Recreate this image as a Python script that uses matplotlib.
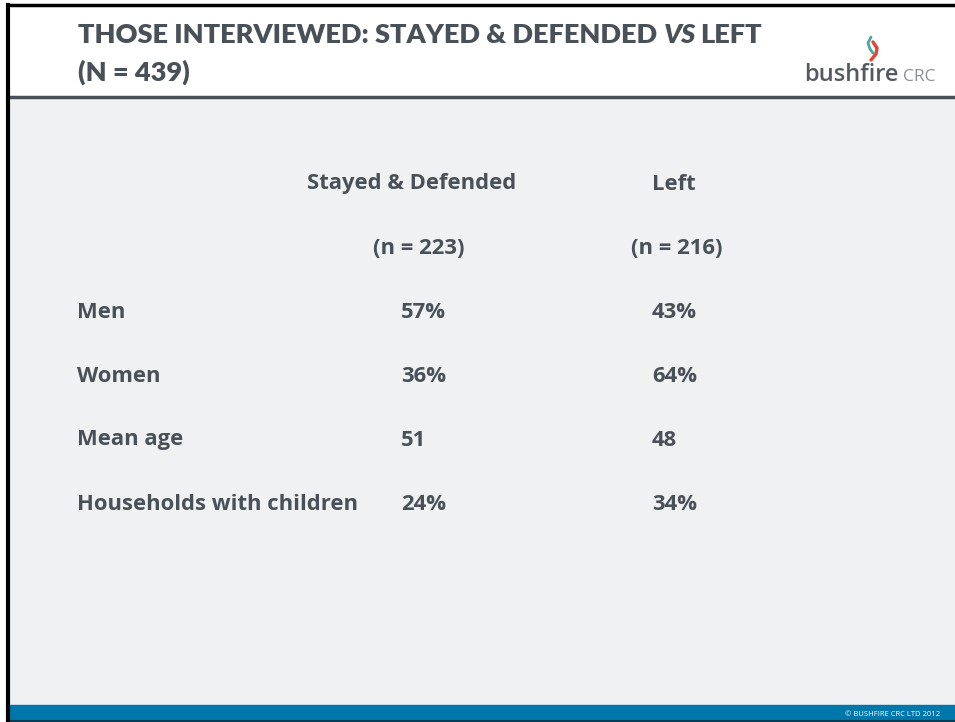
import matplotlib.pyplot as plt
from matplotlib.patches import Rectangle

title_lines = ["THOSE INTERVIEWED: STAYED & DEFENDED ", "(N = 439)"]
col_headers = ["Stayed & Defended", "Left"]
col_counts = ["(n = 223)", "(n = 216)"]
row_labels = ["Men", "Women", "Mean age", "Households with children"]
stayed_vals = ["57%", "36%", "51", "24%"]
left_vals = ["43%", "64%", "48", "34%"]

TXT = "#4a5058"
W, H = 955, 722


def main():
    fig = plt.figure(figsize=(W / 100, H / 100), dpi=100)
    ax = fig.add_axes([0, 0, 1, 1])
    ax.set_xlim(0, W)
    ax.set_ylim(H, 0)
    ax.axis("off")

    # backgrounds
    ax.add_patch(Rectangle((0, 0), W, H, color="white", zorder=0))
    ax.add_patch(Rectangle((8, 98), W, 607, color="#f0f1f3", zorder=1))
    ax.add_patch(Rectangle((8, 705), W, 17, color="#0077aa", zorder=1))
    ax.plot([8, W], [720.5, 720.5], color="#0a3d55", lw=1.5, zorder=2)
    ax.plot([8, W], [97, 97], color="#4a5058", lw=2.5, zorder=2)
    # black frame top/left
    ax.plot([7.5, W], [5, 5], color="black", lw=2.5, zorder=3)
    ax.plot([7.5, 7.5], [5, H], color="black", lw=3, zorder=3)

    # title
    tfont = dict(family="Lato", weight="heavy", size=19.5, color=TXT)
    t = ax.text(78, 35, title_lines[0], va="center", ha="left", **tfont)
    fig.canvas.draw()
    bb = t.get_window_extent().transformed(ax.transData.inverted())
    t2 = ax.text(bb.x1, 35, "VS", va="center", ha="left", style="italic", **tfont)
    bb2 = t2.get_window_extent().transformed(ax.transData.inverted())
    ax.text(bb2.x1 + 5, 35, "LEFT", va="center", ha="left", **tfont)
    ax.text(78, 72, title_lines[1], va="center", ha="left", **tfont)

    # logo
    ax.text(804, 75, "bushfire", va="center", ha="left", family="Open Sans",
            weight="semibold", size=17, color="#555a60")
    ax.text(903, 77, "CRC", va="center", ha="left", family="Open Sans",
            size=12.5, color="#8a8f95")
    ax.plot([871, 868, 870, 873], [37, 43, 49, 53], color="#4aa89a", lw=2,
            solid_capstyle="round")
    ax.plot([873, 877, 876, 871], [42, 48, 54, 60], color="#e0483c", lw=2.5,
            solid_capstyle="round")

    # table
    bfont = dict(family="Open Sans", weight="bold", size=15.8, color=TXT)
    ax.text(412, 184, col_headers[0], ha="center", va="center", **bfont)
    ax.text(674, 184, col_headers[1], ha="center", va="center", **bfont)
    ax.text(419, 248, col_counts[0], ha="center", va="center", **bfont)
    ax.text(677, 248, col_counts[1], ha="center", va="center", **bfont)
    for i, lab in enumerate(row_labels):
        y = 312 + i * 64
        ax.text(77, y, lab, ha="left", va="center", **bfont)
        ax.text(401, y, stayed_vals[i], ha="left", va="center", **bfont)
        ax.text(652, y, left_vals[i], ha="left", va="center", **bfont)

    ax.text(940, 714, "\u00a9 BUSHFIRE CRC LTD 2012", ha="right", va="center",
            family="Open Sans", size=5.5, color="white")

    fig.savefig("out.png", dpi=100)


if __name__ == "__main__":
    main()
